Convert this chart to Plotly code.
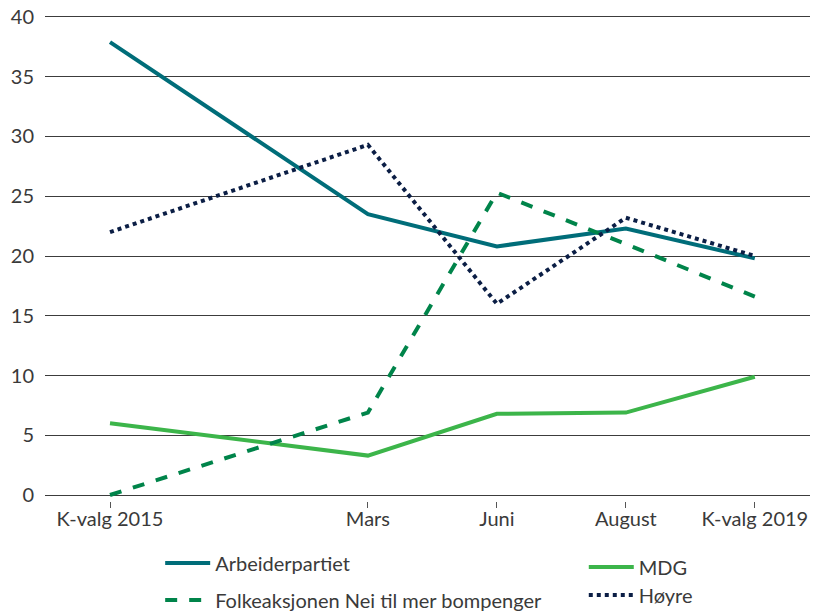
import plotly.graph_objects as go

categories = ["K-valg 2015", "Mars", "Juni", "August", "K-valg 2019"]
x_pos = [0, 2, 3, 4, 5]

arbeiderpartiet = [37.9, 23.5, 20.8, 22.3, 19.8]
hoyre = [22.0, 29.3, 16.0, 23.2, 20.0]
folkeaksjonen = [0.0, 6.9, 25.3, 21.0, 16.6]
mdg = [6.0, 3.3, 6.8, 6.9, 9.9]

font_family = "Lato"
text_color = "#3a3a3a"
fs = 20

fig = go.Figure()
fig.add_trace(go.Scatter(x=x_pos, y=arbeiderpartiet, name="Arbeiderpartiet", mode="lines",
                         line=dict(color="#006d79", width=4), legend="legend"))
fig.add_trace(go.Scatter(x=x_pos, y=mdg, name="MDG", mode="lines",
                         line=dict(color="#3cb54a", width=4), legend="legend2"))
fig.add_trace(go.Scatter(x=x_pos, y=folkeaksjonen, name="Folkeaksjonen Nei til mer bompenger", mode="lines",
                         line=dict(color="#00844a", width=4, dash="dash"), legend="legend3"))
fig.add_trace(go.Scatter(x=x_pos, y=hoyre, name="Høyre", mode="lines",
                         line=dict(color="#0b1e45", width=4, dash="dot"), legend="legend4"))

def leg(x, y):
    return dict(orientation="v", x=x, xanchor="left", y=y, yanchor="middle",
                font=dict(size=fs, color=text_color), itemwidth=45,
                bgcolor="rgba(0,0,0,0)", borderwidth=0)

fig.update_layout(
    width=810, height=603,
    margin=dict(l=37, r=0, t=3, b=110, autoexpand=False),
    plot_bgcolor="white", paper_bgcolor="white",
    font=dict(family=font_family, size=fs, color=text_color),
    xaxis=dict(range=[-0.504, 5.49], tickvals=x_pos, ticktext=categories,
               showgrid=False, zeroline=False, ticks="outside", ticklen=6,
               tickcolor="#555555", tickwidth=1, showline=False,
               ticklabelstandoff=-6, ticklabeloverflow="allow",
               tickfont=dict(size=fs, color=text_color)),
    yaxis=dict(range=[-0.5, 40.5], tickvals=[0, 5, 10, 15, 20, 25, 30, 35, 40],
               showgrid=True, gridcolor="#3c3c3c", gridwidth=1, zeroline=False,
               showline=False, ticks="", ticklabelstandoff=10,
               ticklabeloverflow="allow",
               tickfont=dict(size=fs, color=text_color)),
    legend=leg(0.149, -0.1265),
    legend2=leg(0.697, -0.1347),
    legend3=leg(0.149, -0.202),
    legend4=leg(0.697, -0.1918),
    showlegend=True,
)

fig.write_html("out.html")
